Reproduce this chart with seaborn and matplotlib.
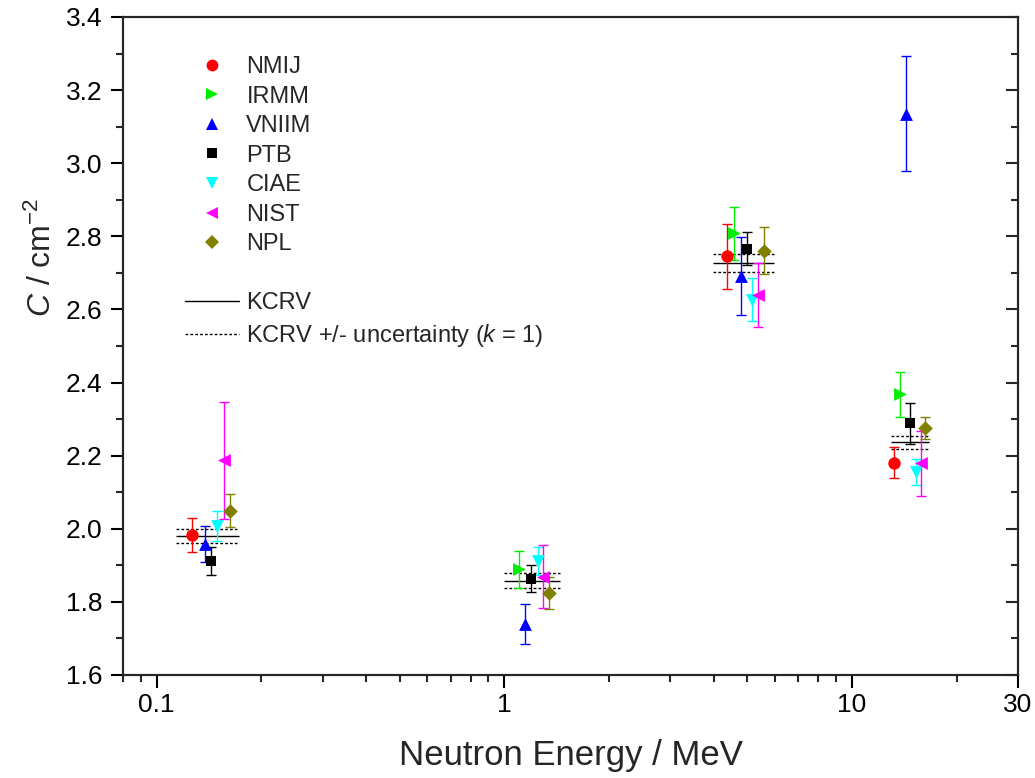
import numpy as np
import pandas as pd
import matplotlib
matplotlib.use("Agg")
import matplotlib.pyplot as plt
import seaborn as sns
from matplotlib.lines import Line2D
from matplotlib.ticker import FixedLocator, FixedFormatter, LogLocator, MultipleLocator, NullFormatter

# ---------------- data ----------------
labs = ["NMIJ", "IRMM", "VNIIM", "PTB", "CIAE", "NIST", "NPL"]

nmij_E = [0.126, 4.38, 13.2]
nmij_C = [1.983, 2.745, 2.181]
nmij_U = [0.047, 0.090, 0.043]

irmm_E = [1.099, 4.58, 13.7]
irmm_C = [1.889, 2.808, 2.368]
irmm_U = [0.051, 0.073, 0.062]

vniim_E = [0.138, 1.147, 4.78, 14.3]
vniim_C = [1.958, 1.739, 2.692, 3.136]
vniim_U = [0.050, 0.054, 0.107, 0.158]

ptb_E = [0.1436, 1.193, 4.99, 14.7]
ptb_C = [1.912, 1.863, 2.766, 2.288]
ptb_U = [0.038, 0.037, 0.045, 0.057]

ciae_E = [0.149, 1.246, 5.17, 15.25]
ciae_C = [2.008, 1.912, 2.627, 2.156]
ciae_U = [0.041, 0.038, 0.058, 0.036]

nist_E = [0.156, 1.294, 5.38, 15.75]
nist_C = [2.188, 1.869, 2.639, 2.179]
nist_U = [0.160, 0.086, 0.0875, 0.089]

npl_E = [0.162, 1.346, 5.57, 16.2]
npl_C = [2.050, 1.824, 2.761, 2.276]
npl_U = [0.044, 0.043, 0.064, 0.031]

kcrv_E_lo = [0.114, 0.996, 3.97, 12.9]
kcrv_E_hi = [0.173, 1.445, 5.97, 16.6]
kcrv_C = [1.981, 1.858, 2.728, 2.237]
kcrv_U = [0.019, 0.020, 0.025, 0.018]

x_ticks = [0.1, 1, 10, 30]
x_ticklabels = ["0.1", "1", "10", "30"]
y_ticks = [1.6, 1.8, 2.0, 2.2, 2.4, 2.6, 2.8, 3.0, 3.2, 3.4]

series = {
    "NMIJ": (nmij_E, nmij_C, nmij_U),
    "IRMM": (irmm_E, irmm_C, irmm_U),
    "VNIIM": (vniim_E, vniim_C, vniim_U),
    "PTB": (ptb_E, ptb_C, ptb_U),
    "CIAE": (ciae_E, ciae_C, ciae_U),
    "NIST": (nist_E, nist_C, nist_U),
    "NPL": (npl_E, npl_C, npl_U),
}

colors = {"NMIJ": "#ff0000", "IRMM": "#00ee00", "VNIIM": "#0000ff", "PTB": "#000000",
          "CIAE": "#00ffff", "NIST": "#ff00ff", "NPL": "#808000"}
markers = {"NMIJ": "o", "IRMM": ">", "VNIIM": "^", "PTB": "s",
           "CIAE": "v", "NIST": "<", "NPL": "D"}
msizes = {"NMIJ": 80, "IRMM": 85, "VNIIM": 85, "PTB": 55,
          "CIAE": 85, "NIST": 85, "NPL": 55}

rows = []
for lab in labs:
    E, C, U = series[lab]
    for e, c, u in zip(E, C, U):
        rows.append({"lab": lab, "E": e, "C": c, "U": u})
df = pd.DataFrame(rows)

# ---------------- style ----------------
sns.set_style("ticks")
plt.rcParams["font.family"] = ["Liberation Sans", "DejaVu Sans"]
plt.rcParams["mathtext.fontset"] = "custom"
plt.rcParams["mathtext.rm"] = "Liberation Sans"
plt.rcParams["mathtext.it"] = "Liberation Sans:italic"

fig = plt.figure(figsize=(10.35, 7.78), dpi=100)
ax = fig.add_axes([123 / 1035, 1 - 675 / 778, (1018 - 123) / 1035, (675 - 17) / 778])

# KCRV lines
ax.hlines(kcrv_C, kcrv_E_lo, kcrv_E_hi, colors="black", linewidth=1.0, zorder=2)
ax.hlines(np.array(kcrv_C) + np.array(kcrv_U), kcrv_E_lo, kcrv_E_hi, colors="black",
          linewidth=1.0, linestyles=(0, (2, 1.5)), zorder=2)
ax.hlines(np.array(kcrv_C) - np.array(kcrv_U), kcrv_E_lo, kcrv_E_hi, colors="black",
          linewidth=1.0, linestyles=(0, (2, 1.5)), zorder=2)

# error bars
for lab in labs:
    d = df[df["lab"] == lab]
    ax.errorbar(d["E"], d["C"], yerr=d["U"], fmt="none", ecolor=colors[lab],
                elinewidth=1.0, capsize=3.5, capthick=1.0, zorder=3)

# markers
for lab in labs:
    d = df[df["lab"] == lab]
    sns.scatterplot(data=d, x="E", y="C", ax=ax, color=colors[lab], marker=markers[lab],
                    s=msizes[lab], edgecolor=colors[lab], linewidth=0, zorder=4, legend=False)

ax.set_xscale("log")
ax.set_xlim(0.08, 30)
ax.set_ylim(1.6, 3.4)

ax.xaxis.set_major_locator(FixedLocator(x_ticks))
ax.xaxis.set_major_formatter(FixedFormatter(x_ticklabels))
ax.xaxis.set_minor_locator(LogLocator(base=10, subs=np.arange(2, 10), numticks=50))
ax.xaxis.set_minor_formatter(NullFormatter())
ax.yaxis.set_major_locator(FixedLocator(y_ticks))
ax.yaxis.set_major_formatter(FixedFormatter([f"{v:.1f}" for v in y_ticks]))
ax.yaxis.set_minor_locator(MultipleLocator(0.1))

ax.tick_params(axis="both", which="major", direction="out", length=9, width=1.5,
               labelsize=19, pad=6, colors="black")
ax.tick_params(axis="both", which="minor", direction="out", length=5, width=1.5)
ax.tick_params(axis="x", which="major", pad=4)
for sp in ax.spines.values():
    sp.set_linewidth(1.5)
    sp.set_color("black")
    sp.set_visible(True)

# right axis ticks (inward)
ax2 = ax.twinx()
ax2.set_ylim(1.6, 3.4)
ax2.yaxis.set_major_locator(FixedLocator(y_ticks))
ax2.yaxis.set_minor_locator(MultipleLocator(0.1))
ax2.tick_params(axis="y", which="major", direction="in", length=9, width=1.5, labelright=False)
ax2.tick_params(axis="y", which="minor", direction="in", length=5, width=1.5)
for sp in ax2.spines.values():
    sp.set_linewidth(1.5)

ax.set_xlabel("Neutron Energy / MeV", fontsize=25, labelpad=16)
ax.set_ylabel(r"$C$ / cm$^{-2}$", fontsize=23)
ax.yaxis.set_label_coords(-0.073, 0.635)

# legend
handles = []
for lab in labs:
    handles.append(Line2D([], [], linestyle="none", marker=markers[lab], color=colors[lab],
                          markersize=8.5 if markers[lab] not in ("s", "D") else 7,
                          markeredgewidth=0))
handles.append(Line2D([], [], linestyle="none", marker=None))
handles.append(Line2D([], [], color="black", linewidth=1.0))
handles.append(Line2D([], [], color="black", linewidth=1.0, linestyle=(0, (2, 1.5))))
labels = labs + ["", "KCRV", r"KCRV +/- uncertainty ($k$ = 1)"]

leg = ax.legend(handles, labels, loc="upper left",
                bbox_to_anchor=((185 - 123) / 895, (675 - 56) / 658),
                frameon=False, fontsize=17, handlelength=2.3, handletextpad=0.3,
                borderpad=0, borderaxespad=0, labelspacing=0.32)

fig.savefig("out.png", dpi=100)
